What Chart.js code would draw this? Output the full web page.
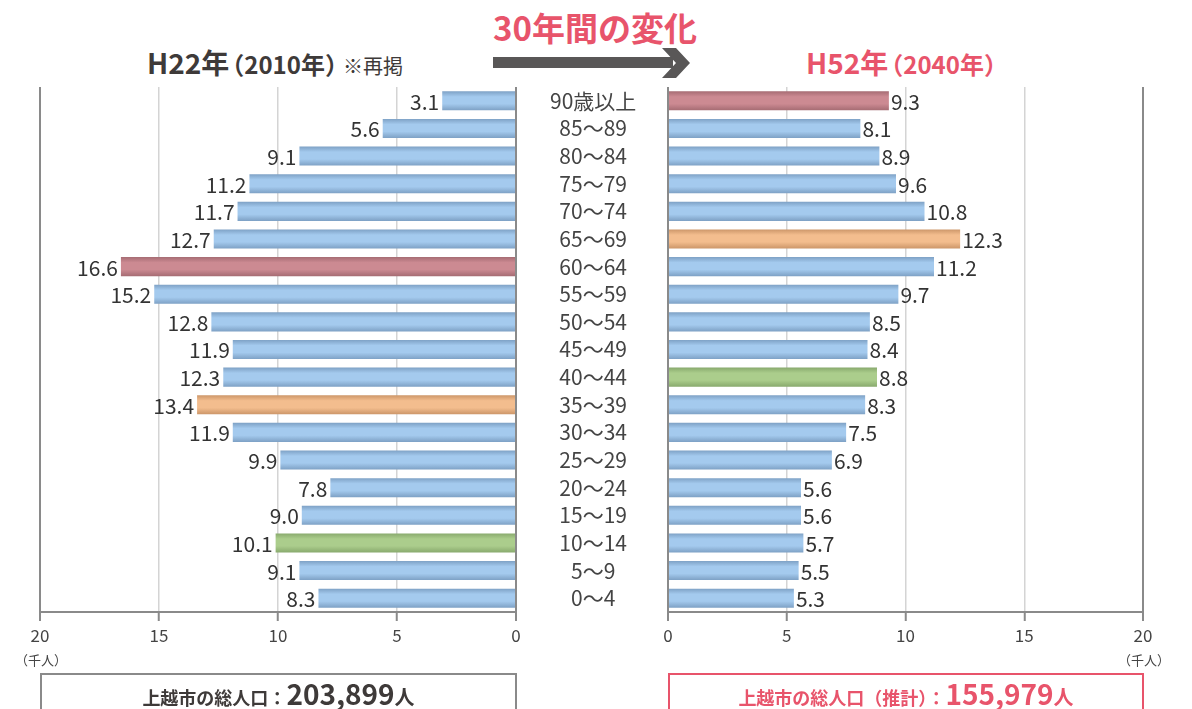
<!DOCTYPE html>
<html>
<head>
<meta charset="utf-8">
<script src="https://cdn.jsdelivr.net/npm/chart.js@4.4.1/dist/chart.umd.min.js"></script>
<style>
    body {
        margin: 0;
        width: 1192px;
        height: 709px;
        overflow: hidden;
        background: #fff;
        position: relative;
        font-family: "Noto Sans CJK JP", sans-serif;
    }
    canvas { position: absolute; left: 0; top: 0; }
    .txt { position: absolute; white-space: nowrap; line-height: 1; font-weight: bold; }
    .pink { color: #e8546b; }
    .dark { color: #3e3a39; }
    .box {
        position: absolute;
        top: 673px;
        height: 50px;
        box-sizing: border-box;
        border: 2px solid #8a8a8a;
        text-align: center;
        font-weight: bold;
        padding-top: 4px;
        line-height: 1;
    }
    .unit { position: absolute; top: 650px; font-size: 13px; color: #444; width: 50px; text-align: center; }
</style>
</head>
<body>

<div class="txt pink" style="left:493px; top:11px; font-size:33px;">30年間の変化</div>

<svg style="position:absolute;left:0;top:0" width="1192" height="100">
    <rect x="493" y="57" width="180" height="11" fill="#595757"></rect>
    <polygon points="662,48 676,48 690,63 676,78 662,78 676,63" fill="#595757"></polygon>
</svg>

<div class="txt dark" style="left:147px; top:48px;">
    <span style="font-size:28px;">H22年</span><span style="font-size:24px; margin-left:-9px;">（2010年）</span><span style="font-size:20px; font-weight:normal; margin-left:-6px;">※再掲</span>
</div>
<div class="txt pink" style="left:806px; top:48px;">
    <span style="font-size:28px;">H52年</span><span style="font-size:24px; margin-left:-9px;">（2040年）</span>
</div>

<canvas id="leftChart" width="1192" height="709"></canvas>
<canvas id="rightChart" width="1192" height="709"></canvas>

<div class="unit" style="left:15px;">（千人）</div>
<div class="unit" style="left:1118px;">（千人）</div>

<div class="box dark" style="left:40px; width:477px;">
    <span style="font-size:18px;">上越市の総人口：</span><span style="font-size:28px;">203,899</span><span style="font-size:20px;">人</span>
</div>
<div class="box pink" style="left:668px; width:476px; border-color:#e8546b;">
    <span style="font-size:18px;">上越市の総人口（推計）：</span><span style="font-size:28px;">155,979</span><span style="font-size:20px;">人</span>
</div>

<script>
// age groups, top to bottom
const ageGroups = ['90歳以上', '85～89', '80～84', '75～79', '70～74', '65～69', '60～64', '55～59',
    '50～54', '45～49', '40～44', '35～39', '30～34', '25～29', '20～24', '15～19', '10～14', '5～9', '0～4'];

// population in thousands
const pop2010 = [3.1, 5.6, 9.1, 11.2, 11.7, 12.7, 16.6, 15.2, 12.8, 11.9, 12.3, 13.4, 11.9, 9.9, 7.8, 9.0, 10.1, 9.1, 8.3];
const pop2040 = [9.3, 8.1, 8.9, 9.6, 10.8, 12.3, 11.2, 9.7, 8.5, 8.4, 8.8, 8.3, 7.5, 6.9, 5.6, 5.6, 5.7, 5.5, 5.3];

const axisTicks = [0, 5, 10, 15, 20];

// bar palettes: [edge, center]
const palette = {
    blue: ['#7b9ec2', '#a4caee'],
    rose: ['#a36a71', '#cc8a92'],
    orange: ['#c99366', '#f3bd8e'],
    green: ['#86a76b', '#abcd8c']
};
const highlight2010 = { 6: 'rose', 11: 'orange', 16: 'green' };
const highlight2040 = { 0: 'rose', 5: 'orange', 10: 'green' };

const FONT = '"Noto Sans CJK JP", sans-serif';

function barFill(highlights) {
    return function(c) {
        const chart = c.chart;
        const cols = palette[highlights[c.dataIndex] || 'blue'];
        const y = chart.scales.y;
        if (!chart.chartArea || !y || c.type !== 'data') return cols[1];
        const cy = y.getPixelForValue(c.dataIndex);
        const g = chart.ctx.createLinearGradient(0, cy - 10, 0, cy + 10);
        g.addColorStop(0, cols[0]);
        g.addColorStop(0.3, cols[1]);
        g.addColorStop(0.65, cols[1]);
        g.addColorStop(1, cols[0]);
        return g;
    };
}

// value labels at the end of each bar
const valueLabels = {
    id: 'valueLabels',
    afterDatasetsDraw(chart, args, opts) {
        const ctx = chart.ctx;
        const meta = chart.getDatasetMeta(0);
        const data = chart.data.datasets[0].data;
        ctx.save();
        ctx.font = '21px ' + FONT;
        ctx.fillStyle = '#333';
        ctx.textBaseline = 'middle';
        ctx.textAlign = opts.side === 'left' ? 'right' : 'left';
        meta.data.forEach((bar, i) => {
            const x = opts.side === 'left' ? bar.x - 3 : bar.x + 2;
            ctx.fillText(data[i].toFixed(1), x, bar.y + 1);
        });
        ctx.restore();
    }
};

function xScale(reverse) {
    return {
        type: 'linear',
        min: 0,
        max: 20,
        reverse: reverse,
        afterBuildTicks: scale => { scale.ticks = axisTicks.map(v => ({ value: v })); },
        afterFit: scale => { scale.height = 45; },
        grid: {
            color: c => (c.tick && (c.tick.value === 0 || c.tick.value === 20)) ? '#8a8a8a' : '#d4d4d4',
            lineWidth: c => (c.tick && (c.tick.value === 0 || c.tick.value === 20)) ? 2 : 1.5,
            tickColor: '#8a8a8a',
            tickLength: 9,
            tickWidth: 2
        },
        border: { color: '#8a8a8a', width: 2 },
        ticks: { color: '#444', font: { family: FONT, size: 17 }, padding: 4 }
    };
}

function makeChart(id, values, highlights, side) {
    const isLeft = side === 'left';
    return new Chart(document.getElementById(id), {
        type: 'bar',
        data: {
            labels: ageGroups,
            datasets: [{
                data: values,
                backgroundColor: barFill(highlights),
                borderWidth: 0,
                barPercentage: 0.69,
                categoryPercentage: 1
            }]
        },
        options: {
            indexAxis: 'y',
            responsive: false,
            animation: false,
            layout: {
                padding: isLeft
                    ? { left: 40, right: 524, top: 87, bottom: 52 }
                    : { left: 668, right: 49, top: 87, bottom: 52 }
            },
            plugins: {
                legend: { display: false },
                tooltip: { enabled: false },
                valueLabels: { side: side }
            },
            scales: {
                x: xScale(isLeft),
                y: {
                    display: isLeft,
                    position: 'right',
                    afterFit: scale => { scale.width = isLeft ? 152 : 0; },
                    grid: { display: false },
                    border: { display: false },
                    ticks: {
                        color: '#444',
                        font: { family: FONT, size: 21 },
                        crossAlign: 'center',
                        autoSkip: false,
                        padding: 26
                    }
                }
            }
        },
        plugins: [valueLabels]
    });
}

makeChart('leftChart', pop2010, highlight2010, 'left');
makeChart('rightChart', pop2040, highlight2040, 'right');
</script>
</body>
</html>
